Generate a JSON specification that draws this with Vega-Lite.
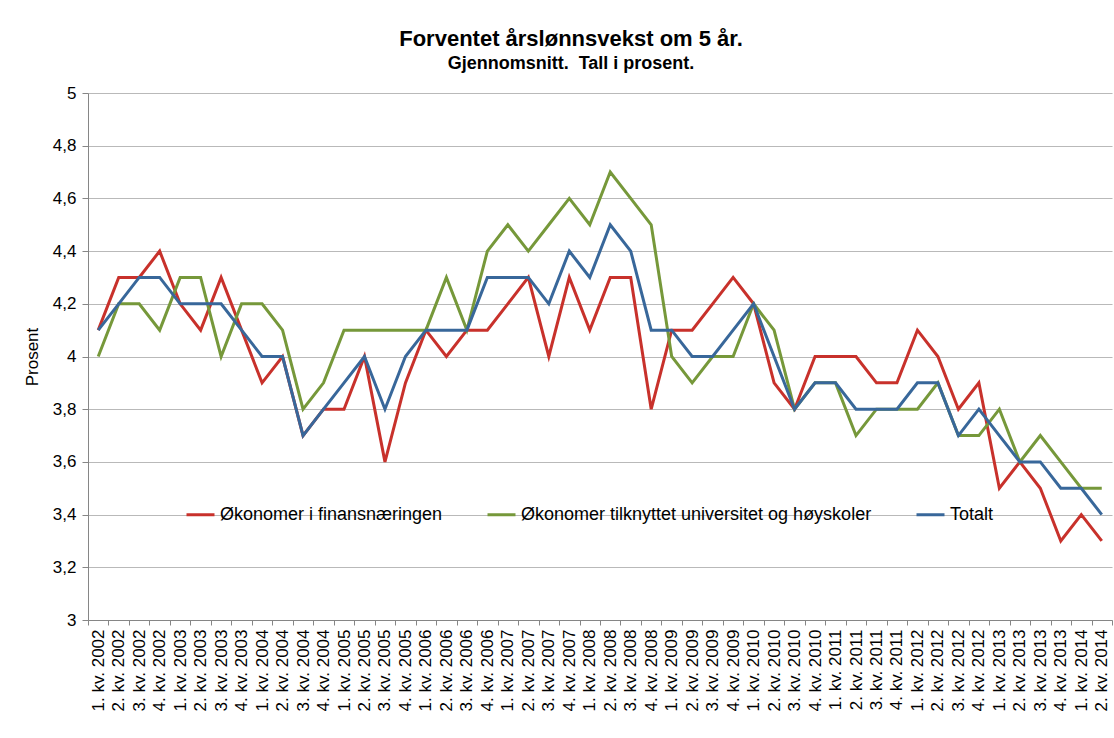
{
  "$schema": "https://vega.github.io/schema/vega-lite/v6.json",
  "autosize": {"type": "none"},
  "width": 1024,
  "height": 527,
  "padding": {"left": 88, "top": 93, "right": 2, "bottom": 118},
  "background": "white",
  "title": {
    "text": "Forventet årslønnsvekst om 5 år.",
    "subtitle": "Gjennomsnitt.\u00a0 Tall i prosent.",
    "anchor": "middle",
    "dx": -29,
    "offset": 10,
    "font": "Liberation Sans",
    "fontSize": 22,
    "fontWeight": "bold",
    "color": "black",
    "subtitleFont": "Liberation Sans",
    "subtitleFontSize": 18,
    "subtitleFontWeight": "bold",
    "subtitleColor": "black",
    "subtitlePadding": 4
  },
  "data": {
    "values": [
      {"q": "1. kv. 2002", "s": "Økonomer i finansnæringen", "v": 4.1},
      {"q": "2. kv. 2002", "s": "Økonomer i finansnæringen", "v": 4.3},
      {"q": "3. kv. 2002", "s": "Økonomer i finansnæringen", "v": 4.3},
      {"q": "4. kv. 2002", "s": "Økonomer i finansnæringen", "v": 4.4},
      {"q": "1. kv. 2003", "s": "Økonomer i finansnæringen", "v": 4.2},
      {"q": "2. kv. 2003", "s": "Økonomer i finansnæringen", "v": 4.1},
      {"q": "3. kv. 2003", "s": "Økonomer i finansnæringen", "v": 4.3},
      {"q": "4. kv. 2003", "s": "Økonomer i finansnæringen", "v": 4.1},
      {"q": "1. kv. 2004", "s": "Økonomer i finansnæringen", "v": 3.9},
      {"q": "2. kv. 2004", "s": "Økonomer i finansnæringen", "v": 4.0},
      {"q": "3. kv. 2004", "s": "Økonomer i finansnæringen", "v": 3.7},
      {"q": "4. kv. 2004", "s": "Økonomer i finansnæringen", "v": 3.8},
      {"q": "1. kv. 2005", "s": "Økonomer i finansnæringen", "v": 3.8},
      {"q": "2. kv. 2005", "s": "Økonomer i finansnæringen", "v": 4.0},
      {"q": "3. kv. 2005", "s": "Økonomer i finansnæringen", "v": 3.6},
      {"q": "4. kv. 2005", "s": "Økonomer i finansnæringen", "v": 3.9},
      {"q": "1. kv. 2006", "s": "Økonomer i finansnæringen", "v": 4.1},
      {"q": "2. kv. 2006", "s": "Økonomer i finansnæringen", "v": 4.0},
      {"q": "3. kv. 2006", "s": "Økonomer i finansnæringen", "v": 4.1},
      {"q": "4. kv. 2006", "s": "Økonomer i finansnæringen", "v": 4.1},
      {"q": "1. kv. 2007", "s": "Økonomer i finansnæringen", "v": 4.2},
      {"q": "2. kv. 2007", "s": "Økonomer i finansnæringen", "v": 4.3},
      {"q": "3. kv. 2007", "s": "Økonomer i finansnæringen", "v": 4.0},
      {"q": "4. kv. 2007", "s": "Økonomer i finansnæringen", "v": 4.3},
      {"q": "1. kv. 2008", "s": "Økonomer i finansnæringen", "v": 4.1},
      {"q": "2. kv. 2008", "s": "Økonomer i finansnæringen", "v": 4.3},
      {"q": "3. kv. 2008", "s": "Økonomer i finansnæringen", "v": 4.3},
      {"q": "4. kv. 2008", "s": "Økonomer i finansnæringen", "v": 3.8},
      {"q": "1. kv. 2009", "s": "Økonomer i finansnæringen", "v": 4.1},
      {"q": "2. kv. 2009", "s": "Økonomer i finansnæringen", "v": 4.1},
      {"q": "3. kv. 2009", "s": "Økonomer i finansnæringen", "v": 4.2},
      {"q": "4. kv. 2009", "s": "Økonomer i finansnæringen", "v": 4.3},
      {"q": "1. kv. 2010", "s": "Økonomer i finansnæringen", "v": 4.2},
      {"q": "2. kv. 2010", "s": "Økonomer i finansnæringen", "v": 3.9},
      {"q": "3. kv. 2010", "s": "Økonomer i finansnæringen", "v": 3.8},
      {"q": "4. kv. 2010", "s": "Økonomer i finansnæringen", "v": 4.0},
      {"q": "1. kv. 2011", "s": "Økonomer i finansnæringen", "v": 4.0},
      {"q": "2. kv. 2011", "s": "Økonomer i finansnæringen", "v": 4.0},
      {"q": "3. kv. 2011", "s": "Økonomer i finansnæringen", "v": 3.9},
      {"q": "4. kv. 2011", "s": "Økonomer i finansnæringen", "v": 3.9},
      {"q": "1. kv. 2012", "s": "Økonomer i finansnæringen", "v": 4.1},
      {"q": "2. kv. 2012", "s": "Økonomer i finansnæringen", "v": 4.0},
      {"q": "3. kv. 2012", "s": "Økonomer i finansnæringen", "v": 3.8},
      {"q": "4. kv. 2012", "s": "Økonomer i finansnæringen", "v": 3.9},
      {"q": "1. kv. 2013", "s": "Økonomer i finansnæringen", "v": 3.5},
      {"q": "2. kv. 2013", "s": "Økonomer i finansnæringen", "v": 3.6},
      {"q": "3. kv. 2013", "s": "Økonomer i finansnæringen", "v": 3.5},
      {"q": "4. kv. 2013", "s": "Økonomer i finansnæringen", "v": 3.3},
      {"q": "1. kv. 2014", "s": "Økonomer i finansnæringen", "v": 3.4},
      {"q": "2. kv. 2014", "s": "Økonomer i finansnæringen", "v": 3.3},
      {"q": "1. kv. 2002", "s": "Økonomer tilknyttet universitet og høyskoler", "v": 4.0},
      {"q": "2. kv. 2002", "s": "Økonomer tilknyttet universitet og høyskoler", "v": 4.2},
      {"q": "3. kv. 2002", "s": "Økonomer tilknyttet universitet og høyskoler", "v": 4.2},
      {"q": "4. kv. 2002", "s": "Økonomer tilknyttet universitet og høyskoler", "v": 4.1},
      {"q": "1. kv. 2003", "s": "Økonomer tilknyttet universitet og høyskoler", "v": 4.3},
      {"q": "2. kv. 2003", "s": "Økonomer tilknyttet universitet og høyskoler", "v": 4.3},
      {"q": "3. kv. 2003", "s": "Økonomer tilknyttet universitet og høyskoler", "v": 4.0},
      {"q": "4. kv. 2003", "s": "Økonomer tilknyttet universitet og høyskoler", "v": 4.2},
      {"q": "1. kv. 2004", "s": "Økonomer tilknyttet universitet og høyskoler", "v": 4.2},
      {"q": "2. kv. 2004", "s": "Økonomer tilknyttet universitet og høyskoler", "v": 4.1},
      {"q": "3. kv. 2004", "s": "Økonomer tilknyttet universitet og høyskoler", "v": 3.8},
      {"q": "4. kv. 2004", "s": "Økonomer tilknyttet universitet og høyskoler", "v": 3.9},
      {"q": "1. kv. 2005", "s": "Økonomer tilknyttet universitet og høyskoler", "v": 4.1},
      {"q": "2. kv. 2005", "s": "Økonomer tilknyttet universitet og høyskoler", "v": 4.1},
      {"q": "3. kv. 2005", "s": "Økonomer tilknyttet universitet og høyskoler", "v": 4.1},
      {"q": "4. kv. 2005", "s": "Økonomer tilknyttet universitet og høyskoler", "v": 4.1},
      {"q": "1. kv. 2006", "s": "Økonomer tilknyttet universitet og høyskoler", "v": 4.1},
      {"q": "2. kv. 2006", "s": "Økonomer tilknyttet universitet og høyskoler", "v": 4.3},
      {"q": "3. kv. 2006", "s": "Økonomer tilknyttet universitet og høyskoler", "v": 4.1},
      {"q": "4. kv. 2006", "s": "Økonomer tilknyttet universitet og høyskoler", "v": 4.4},
      {"q": "1. kv. 2007", "s": "Økonomer tilknyttet universitet og høyskoler", "v": 4.5},
      {"q": "2. kv. 2007", "s": "Økonomer tilknyttet universitet og høyskoler", "v": 4.4},
      {"q": "3. kv. 2007", "s": "Økonomer tilknyttet universitet og høyskoler", "v": 4.5},
      {"q": "4. kv. 2007", "s": "Økonomer tilknyttet universitet og høyskoler", "v": 4.6},
      {"q": "1. kv. 2008", "s": "Økonomer tilknyttet universitet og høyskoler", "v": 4.5},
      {"q": "2. kv. 2008", "s": "Økonomer tilknyttet universitet og høyskoler", "v": 4.7},
      {"q": "3. kv. 2008", "s": "Økonomer tilknyttet universitet og høyskoler", "v": 4.6},
      {"q": "4. kv. 2008", "s": "Økonomer tilknyttet universitet og høyskoler", "v": 4.5},
      {"q": "1. kv. 2009", "s": "Økonomer tilknyttet universitet og høyskoler", "v": 4.0},
      {"q": "2. kv. 2009", "s": "Økonomer tilknyttet universitet og høyskoler", "v": 3.9},
      {"q": "3. kv. 2009", "s": "Økonomer tilknyttet universitet og høyskoler", "v": 4.0},
      {"q": "4. kv. 2009", "s": "Økonomer tilknyttet universitet og høyskoler", "v": 4.0},
      {"q": "1. kv. 2010", "s": "Økonomer tilknyttet universitet og høyskoler", "v": 4.2},
      {"q": "2. kv. 2010", "s": "Økonomer tilknyttet universitet og høyskoler", "v": 4.1},
      {"q": "3. kv. 2010", "s": "Økonomer tilknyttet universitet og høyskoler", "v": 3.8},
      {"q": "4. kv. 2010", "s": "Økonomer tilknyttet universitet og høyskoler", "v": 3.9},
      {"q": "1. kv. 2011", "s": "Økonomer tilknyttet universitet og høyskoler", "v": 3.9},
      {"q": "2. kv. 2011", "s": "Økonomer tilknyttet universitet og høyskoler", "v": 3.7},
      {"q": "3. kv. 2011", "s": "Økonomer tilknyttet universitet og høyskoler", "v": 3.8},
      {"q": "4. kv. 2011", "s": "Økonomer tilknyttet universitet og høyskoler", "v": 3.8},
      {"q": "1. kv. 2012", "s": "Økonomer tilknyttet universitet og høyskoler", "v": 3.8},
      {"q": "2. kv. 2012", "s": "Økonomer tilknyttet universitet og høyskoler", "v": 3.9},
      {"q": "3. kv. 2012", "s": "Økonomer tilknyttet universitet og høyskoler", "v": 3.7},
      {"q": "4. kv. 2012", "s": "Økonomer tilknyttet universitet og høyskoler", "v": 3.7},
      {"q": "1. kv. 2013", "s": "Økonomer tilknyttet universitet og høyskoler", "v": 3.8},
      {"q": "2. kv. 2013", "s": "Økonomer tilknyttet universitet og høyskoler", "v": 3.6},
      {"q": "3. kv. 2013", "s": "Økonomer tilknyttet universitet og høyskoler", "v": 3.7},
      {"q": "4. kv. 2013", "s": "Økonomer tilknyttet universitet og høyskoler", "v": 3.6},
      {"q": "1. kv. 2014", "s": "Økonomer tilknyttet universitet og høyskoler", "v": 3.5},
      {"q": "2. kv. 2014", "s": "Økonomer tilknyttet universitet og høyskoler", "v": 3.5},
      {"q": "1. kv. 2002", "s": "Totalt", "v": 4.1},
      {"q": "2. kv. 2002", "s": "Totalt", "v": 4.2},
      {"q": "3. kv. 2002", "s": "Totalt", "v": 4.3},
      {"q": "4. kv. 2002", "s": "Totalt", "v": 4.3},
      {"q": "1. kv. 2003", "s": "Totalt", "v": 4.2},
      {"q": "2. kv. 2003", "s": "Totalt", "v": 4.2},
      {"q": "3. kv. 2003", "s": "Totalt", "v": 4.2},
      {"q": "4. kv. 2003", "s": "Totalt", "v": 4.1},
      {"q": "1. kv. 2004", "s": "Totalt", "v": 4.0},
      {"q": "2. kv. 2004", "s": "Totalt", "v": 4.0},
      {"q": "3. kv. 2004", "s": "Totalt", "v": 3.7},
      {"q": "4. kv. 2004", "s": "Totalt", "v": 3.8},
      {"q": "1. kv. 2005", "s": "Totalt", "v": 3.9},
      {"q": "2. kv. 2005", "s": "Totalt", "v": 4.0},
      {"q": "3. kv. 2005", "s": "Totalt", "v": 3.8},
      {"q": "4. kv. 2005", "s": "Totalt", "v": 4.0},
      {"q": "1. kv. 2006", "s": "Totalt", "v": 4.1},
      {"q": "2. kv. 2006", "s": "Totalt", "v": 4.1},
      {"q": "3. kv. 2006", "s": "Totalt", "v": 4.1},
      {"q": "4. kv. 2006", "s": "Totalt", "v": 4.3},
      {"q": "1. kv. 2007", "s": "Totalt", "v": 4.3},
      {"q": "2. kv. 2007", "s": "Totalt", "v": 4.3},
      {"q": "3. kv. 2007", "s": "Totalt", "v": 4.2},
      {"q": "4. kv. 2007", "s": "Totalt", "v": 4.4},
      {"q": "1. kv. 2008", "s": "Totalt", "v": 4.3},
      {"q": "2. kv. 2008", "s": "Totalt", "v": 4.5},
      {"q": "3. kv. 2008", "s": "Totalt", "v": 4.4},
      {"q": "4. kv. 2008", "s": "Totalt", "v": 4.1},
      {"q": "1. kv. 2009", "s": "Totalt", "v": 4.1},
      {"q": "2. kv. 2009", "s": "Totalt", "v": 4.0},
      {"q": "3. kv. 2009", "s": "Totalt", "v": 4.0},
      {"q": "4. kv. 2009", "s": "Totalt", "v": 4.1},
      {"q": "1. kv. 2010", "s": "Totalt", "v": 4.2},
      {"q": "2. kv. 2010", "s": "Totalt", "v": 4.0},
      {"q": "3. kv. 2010", "s": "Totalt", "v": 3.8},
      {"q": "4. kv. 2010", "s": "Totalt", "v": 3.9},
      {"q": "1. kv. 2011", "s": "Totalt", "v": 3.9},
      {"q": "2. kv. 2011", "s": "Totalt", "v": 3.8},
      {"q": "3. kv. 2011", "s": "Totalt", "v": 3.8},
      {"q": "4. kv. 2011", "s": "Totalt", "v": 3.8},
      {"q": "1. kv. 2012", "s": "Totalt", "v": 3.9},
      {"q": "2. kv. 2012", "s": "Totalt", "v": 3.9},
      {"q": "3. kv. 2012", "s": "Totalt", "v": 3.7},
      {"q": "4. kv. 2012", "s": "Totalt", "v": 3.8},
      {"q": "1. kv. 2013", "s": "Totalt", "v": 3.7},
      {"q": "2. kv. 2013", "s": "Totalt", "v": 3.6},
      {"q": "3. kv. 2013", "s": "Totalt", "v": 3.6},
      {"q": "4. kv. 2013", "s": "Totalt", "v": 3.5},
      {"q": "1. kv. 2014", "s": "Totalt", "v": 3.5},
      {"q": "2. kv. 2014", "s": "Totalt", "v": 3.4}
    ]
  },
  "mark": {"type": "line", "strokeWidth": 3, "strokeJoin": "miter", "strokeCap": "butt"},
  "encoding": {
    "x": {
      "field": "q",
      "type": "ordinal",
      "sort": null,
      "bandPosition": 0.5,
      "scale": {"type": "band", "paddingInner": 0, "paddingOuter": 0},
      "axis": {
        "title": null,
        "labelAngle": -90,
        "labelFont": "Liberation Sans",
        "labelFontSize": 17,
        "labelColor": "black",
        "labelPadding": 4,
        "tickBand": "extent",
        "tickSize": 5,
        "tickColor": "#868686",
        "domainColor": "#868686",
        "grid": false,
        "labelOverlap": false
      }
    },
    "y": {
      "field": "v",
      "type": "quantitative",
      "scale": {"domain": [3, 5], "nice": false, "zero": false},
      "axis": {
        "title": "Prosent",
        "titleFont": "Liberation Sans",
        "titleFontSize": 17,
        "titleFontWeight": "normal",
        "titleColor": "black",
        "titlePadding": 11,
        "values": [3, 3.2, 3.4, 3.6, 3.8, 4, 4.2, 4.4, 4.6, 4.8, 5],
        "labelExpr": "replace(format(datum.value, '.1~f'), '.', ',')",
        "labelFont": "Liberation Sans",
        "labelFontSize": 17,
        "labelColor": "black",
        "labelPadding": 6,
        "tickSize": 6,
        "tickColor": "#868686",
        "domainColor": "#868686",
        "gridColor": "#b9b9b9",
        "gridWidth": 1
      }
    },
    "color": {
      "field": "s",
      "type": "nominal",
      "sort": null,
      "scale": {
        "domain": ["Økonomer i finansnæringen", "Økonomer tilknyttet universitet og høyskoler", "Totalt"],
        "range": ["#c8312b", "#76983a", "#38679a"]
      },
      "legend": {
        "title": null,
        "orient": "none",
        "legendX": 97,
        "legendY": 406,
        "direction": "horizontal",
        "symbolType": "stroke",
        "symbolSize": 784,
        "symbolStrokeWidth": 3,
        "labelFont": "Liberation Sans",
        "labelFontSize": 18,
        "labelColor": "black",
        "labelOffset": 4,
        "columnPadding": 38,
        "labelLimit": 0
      }
    }
  },
  "config": {
    "view": {"stroke": null}
  }
}
